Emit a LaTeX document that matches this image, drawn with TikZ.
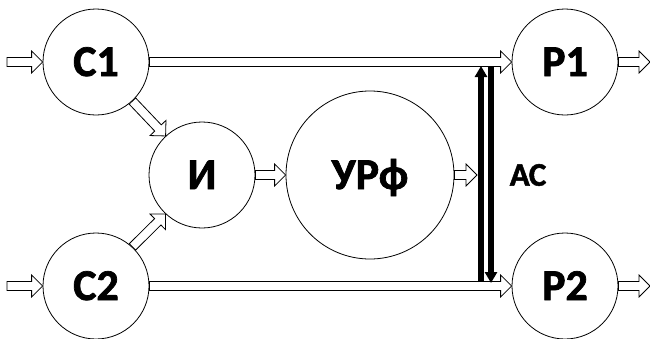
\documentclass[tikz,border=0pt]{standalone}
\usepackage{fontspec}
\setmainfont{Carlito}[BoldFeatures={FakeBold=1.6}]
\usetikzlibrary{calc,arrows.meta}

\tikzset{
	shaft width/.store in=\arShaft,
	shaft width=4.5pt,
	head width/.store in=\arHead,
	head width=11pt,
	head length/.store in=\arLen,
	head length=11pt}
\tikzset{every picture/.style={line width=0.8pt}}
\tikzset{
	block/.style={draw, circle, inner sep=0pt, minimum size=106pt, text height=28pt, text depth=0pt, font=\bfseries\fontsize{44}{44}\selectfont},
	% outlined block arrow from start to target
	hollow/.style={fill=white, to path={
		($(\tikztostart)!\arShaft!90:(\tikztotarget)$)
		-- ($($(\tikztotarget)!\arLen!(\tikztostart)$)!\arShaft!-90:(\tikztostart)$)
		-- ($($(\tikztotarget)!\arLen!(\tikztostart)$)!\arHead!-90:(\tikztostart)$)
		-- (\tikztotarget)
		-- ($($(\tikztotarget)!\arLen!(\tikztostart)$)!\arHead!90:(\tikztostart)$)
		-- ($($(\tikztotarget)!\arLen!(\tikztostart)$)!\arShaft!90:(\tikztostart)$)
		-- ($(\tikztostart)!\arShaft!-90:(\tikztotarget)$) -- cycle}},
	bus/.style={line width=5.5pt, -{Triangle[length=11pt,width=12pt]}}}

\begin{document}
\begin{tikzpicture}[x=1pt,y=-1pt]
	\useasboundingbox (0,0) rectangle (650,338);

	%Shape: Circle
	\node[block] (c1) at (96,62) {C1};
	\node[block] (c2) at (96,286) {C2};
	\node[block] (i) at (202,175) {И};
	\node[block, minimum size=168pt] (urf) at (370,175) {УРф};
	\node[block] (p1) at (565,62) {Р1};
	\node[block] (p2) at (565,286) {Р2};
	% Text Node
	\node[font=\bfseries\fontsize{33}{33}\selectfont] (ac) at (528,175) {АС};

	% free ends
	\coordinate (in1) at (7,62);
	\coordinate (in2) at (7,286);
	\coordinate (out1) at (650,62);
	\coordinate (out2) at (650,286);
	\coordinate (busin) at (477,175);
	\coordinate (busl-bot) at (481,282);
	\coordinate (busl-top) at (481,66);
	\coordinate (busr-top) at (491,67);
	\coordinate (busr-bot) at (491,283);

	%Block Arrows
	\draw[hollow] (in1) to (c1.west);
	\draw[hollow] (in2) to (c2.west);
	\draw[hollow] (c1.east) to (p1.west);
	\draw[hollow] (c2.east) to (p2.west);
	\draw[hollow] (c1.-47) to (i.133);
	\draw[hollow] (c2.47) to (i.-133);
	\draw[hollow] (i.east) to (urf.west);
	\draw[hollow] (urf.east) to (busin);
	\draw[hollow] (p1.east) to (out1);
	\draw[hollow] (p2.east) to (out2);

	%Straight Lines
	\draw[bus] (busl-bot) -- (busl-top);
	\draw[bus] (busr-top) -- (busr-bot);

\end{tikzpicture}
\end{document}
